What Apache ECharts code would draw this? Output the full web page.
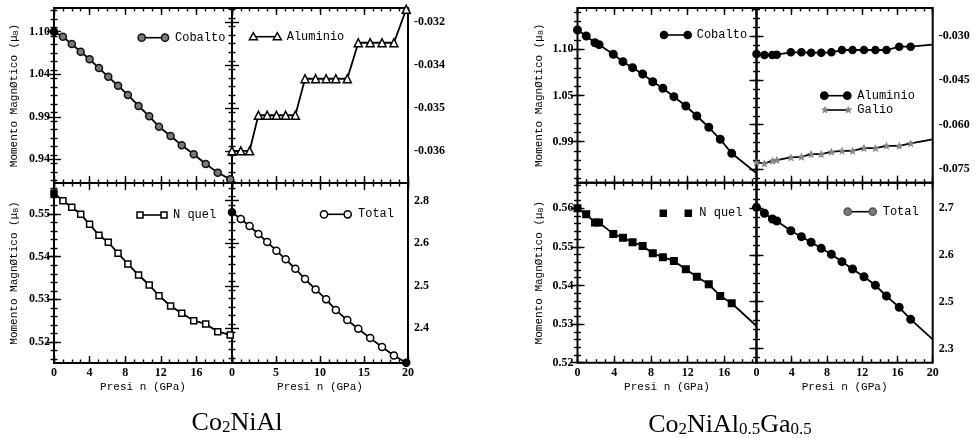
<!DOCTYPE html>
<html>
<head>
<meta charset="utf-8">
<script src="https://cdn.jsdelivr.net/npm/echarts@6/dist/echarts.min.js"></script>
<style>
  html, body { margin: 0; padding: 0; background: #fff; }
  #chart { width: 977px; height: 438px; }
</style>
</head>
<body>
<div id="chart"></div>
<script>
// ---------- Co2NiAl ----------
const pressureA = [0, 1, 2, 3, 4, 5.05, 6.1, 7.2, 8.3, 9.5, 10.7, 11.8, 13.1, 14.35, 15.7, 17.05, 18.4, 19.8];
const cobaltoA = [1.095, 1.089, 1.0805, 1.0715, 1.0626, 1.0523, 1.042, 1.0315, 1.0206, 1.0077, 0.9955, 0.9833, 0.9724, 0.9615, 0.9509, 0.9395, 0.9293, 0.9215];
const aluminioA = [-0.0355, -0.0355, -0.0355, -0.03467, -0.03467, -0.03467, -0.03467, -0.03467, -0.03382, -0.03382, -0.03382, -0.03382, -0.03382, -0.03298, -0.03298, -0.03298, -0.03298, -0.0322];
const niquelA = [0.55485, 0.55312, 0.55157, 0.54993, 0.54759, 0.54501, 0.54337, 0.5408, 0.53829, 0.53571, 0.53337, 0.53087, 0.52845, 0.52674, 0.52501, 0.52424, 0.52243, 0.52166];
const totalA = [2.7227, 2.7069, 2.6905, 2.6716, 2.6528, 2.6324, 2.6121, 2.59, 2.5658, 2.5415, 2.518, 2.4928, 2.4693, 2.4488, 2.4269, 2.4058, 2.3862, 2.3688];

// ---------- Co2NiAl0.5Ga0.5 (last entry of each list is the end of the fitted line) ----------
const pressureBL = [0, 0.95, 1.9, 2.35, 3.9, 4.95, 6.0, 7.1, 8.2, 9.3, 10.5, 11.8, 13.0, 14.3, 15.55, 16.8, 19.5];
const pressureBR = [0, 0.9, 1.8, 2.3, 3.9, 5.1, 6.2, 7.35, 8.5, 9.7, 10.9, 12.2, 13.5, 14.75, 16.2, 17.5, 20];
const cobaltoB = [1.1209, 1.1144, 1.1071, 1.105, 1.0946, 1.0866, 1.0801, 1.0733, 1.0649, 1.0578, 1.0487, 1.0386, 1.0278, 1.0156, 1.0026, 0.9874, 0.9658];
const niquelB = [0.56, 0.55845, 0.55627, 0.55627, 0.55334, 0.55238, 0.55119, 0.55023, 0.54834, 0.54731, 0.54635, 0.5442, 0.54228, 0.54031, 0.53728, 0.53539, 0.5295];
const aluminioB = [-0.0361, -0.03643, -0.03643, -0.03632, -0.03553, -0.03553, -0.03565, -0.03565, -0.03553, -0.03474, -0.03474, -0.03474, -0.03474, -0.03474, -0.03361, -0.03361, -0.03294];
const galioB = [-0.07277, -0.07311, -0.07223, -0.07199, -0.07108, -0.07087, -0.06996, -0.06996, -0.06918, -0.06884, -0.06884, -0.06793, -0.06793, -0.06715, -0.06715, -0.06634, -0.06498];
const totalB = [2.7021, 2.6893, 2.6771, 2.6728, 2.652, 2.6392, 2.6272, 2.6143, 2.6015, 2.5857, 2.57, 2.5535, 2.5351, 2.5122, 2.488, 2.4623, 2.4195];

// ---------- tick values and their printed labels ----------
const xTicks4 = [0, 4, 8, 12, 16];
const xTicks4to20 = [0, 4, 8, 12, 16, 20];
const xTicks5 = [0, 5, 10, 15, 20];
const coTicksA = [0.945, 0.995, 1.045, 1.095];
const coLabelsA = ['0.94', '0.99', '1.04', '1.10'];
const alTicksA = [-0.0355, -0.0345, -0.0335, -0.0325];
const alLabelsA = ['-0.036', '-0.035', '-0.034', '-0.032'];
const niTicksA = [0.52, 0.53, 0.54, 0.55];
const niLabelsA = ['0.52', '0.53', '0.54', '0.55'];
const totTicksA = [2.45, 2.55, 2.65, 2.75];
const totLabelsA = ['2.4', '2.5', '2.6', '2.8'];
const coTicksB = [1.00, 1.05, 1.10];
const coLabelsB = ['0.99', '1.05', '1.10'];
const alGaTicksB = [-0.075, -0.06, -0.045, -0.03];
const alGaLabelsB = ['-0.075', '-0.060', '-0.045', '-0.030'];
const niTicksB = [0.52, 0.53, 0.54, 0.55, 0.56];
const niLabelsB = ['0.52', '0.53', '0.54', '0.55', '0.56'];
const totTicksB = [2.4, 2.5, 2.6, 2.7];
const totLabelsB = ['2.3', '2.5', '2.6', '2.7'];

const SERIF = 'Liberation Serif';
const MONO = 'Liberation Mono';
const Y_NAME = 'Momento MagnØtico (μ{sub|B})';
const X_NAME = 'Presi n (GPa)';

function steps(min, max, step) {
  const out = [];
  for (let k = Math.ceil(min / step - 1e-9); k * step <= max + 1e-12; k++) out.push(+(k * step).toFixed(7));
  return out;
}

// panel frames: [left, top, width, height]
const panels = [
  { box: [54, 8, 178, 175], x: [0, 20], y: [0.9171, 1.1229], xMajor: xTicks4to20, xLab: null, xStep: 1,
    yMajor: coTicksA, yLab: coLabelsA, yStep: 0.01, side: 'left', yName: 34 },
  { box: [232, 8, 176, 175], x: [0, 20], y: [-0.03625, -0.03217], xMajor: xTicks5, xLab: null, xStep: 1,
    yMajor: alTicksA, yLab: alLabelsA, yStep: 0.0002, side: 'right' },
  { box: [54, 183, 178, 180], x: [0, 20], y: [0.5151, 0.55726], xMajor: xTicks4to20, xLab: xTicks4, xStep: 1,
    yMajor: niTicksA, yLab: niLabelsA, yStep: 0.002, side: 'left', yName: 34, xName: true },
  { box: [232, 183, 176, 180], x: [0, 20], y: [2.3684, 2.7916], xMajor: xTicks5, xLab: xTicks5, xStep: 1,
    yMajor: totTicksA, yLab: totLabelsA, yStep: 0.02, side: 'right', xName: true },
  { box: [577.5, 8, 179, 174.7], x: [0, 19.5], y: [0.9556, 1.1447], xMajor: xTicks4, xLab: null, xStep: 1,
    yMajor: coTicksB, yLab: coLabelsB, yStep: 0.01, side: 'left', yName: 33 },
  { box: [756.5, 8, 176.2, 174.7], x: [0, 20], y: [-0.07964, -0.02052], xMajor: xTicks4to20, xLab: null, xStep: 1,
    yMajor: alGaTicksB, yLab: alGaLabelsB, yStep: 0.003, side: 'right' },
  { box: [577.5, 182.7, 179, 180], x: [0, 19.5], y: [0.52, 0.5666], xMajor: xTicks4, xLab: xTicks4, xStep: 1,
    yMajor: niTicksB, yLab: niLabelsB, yStep: 0.002, side: 'left', yName: 33, xName: true },
  { box: [756.5, 182.7, 176.2, 180], x: [0, 20], y: [2.3694, 2.7548], xMajor: xTicks4to20, xLab: xTicks4to20, xStep: 1,
    yMajor: totTicksB, yLab: totLabelsB, yStep: 0.02, side: 'right', xName: true }
];

const grids = [], xAxes = [], yAxes = [], series = [];
const tickLine = { color: '#000', width: 1.4 };
const labelFont = { color: '#000', fontFamily: SERIF, fontWeight: 'bold', fontSize: 12 };

function mkAxis(gi, range, pos, ticks, len, extra) {
  return Object.assign({
    gridIndex: gi, type: 'value', min: range[0], max: range[1], position: pos,
    axisLine: { show: false }, splitLine: { show: false },
    axisTick: { show: true, inside: true, length: len, customValues: ticks, lineStyle: tickLine },
    axisLabel: { show: false }
  }, extra || {});
}

const axisIndex = [];
panels.forEach((P, gi) => {
  const [l, t, w, h] = P.box;
  grids.push({ left: l, top: t, width: w, height: h, show: true, borderColor: '#000', borderWidth: 2, containLabel: false });
  const xMinor = steps(P.x[0], P.x[1], P.xStep);
  const yMinor = steps(P.y[0], P.y[1], P.yStep);
  const xi = xAxes.length, yi = yAxes.length;
  axisIndex.push([xi, yi]);
  // bottom axis (labels and long ticks)
  const xExtra = {};
  if (P.xLab) {
    xExtra.axisLabel = { show: true, customValues: P.xLab, margin: 4, ...labelFont };
  }
  if (P.xName) {
    Object.assign(xExtra, {
      name: X_NAME, nameLocation: 'middle', nameGap: 19,
      nameTextStyle: { fontFamily: MONO, fontSize: 11, color: '#000' }
    });
  }
  xAxes.push(mkAxis(gi, P.x, 'bottom', P.xMajor, 7, xExtra));
  xAxes.push(mkAxis(gi, P.x, 'bottom', xMinor, 3.5));
  xAxes.push(mkAxis(gi, P.x, 'top', P.xMajor, 7));
  xAxes.push(mkAxis(gi, P.x, 'top', xMinor, 3.5));
  // labelled side for y
  const other = P.side === 'left' ? 'right' : 'left';
  const labs = P.yLab, ticks = P.yMajor;
  const yExtra = {
    axisLabel: {
      show: true, customValues: ticks, margin: P.side === 'left' ? 4 : 6, ...labelFont,
      formatter: v => labs[ticks.findIndex(tv => Math.abs(tv - v) < 1e-9)]
    }
  };
  if (P.yName) {
    Object.assign(yExtra, {
      name: Y_NAME, nameLocation: 'middle', nameGap: P.yName,
      nameTextStyle: { fontFamily: MONO, fontSize: 11, color: '#000', rich: { sub: { fontFamily: MONO, fontSize: 8, color: '#000', verticalAlign: 'bottom', lineHeight: 8 } } }
    });
  }
  yAxes.push(mkAxis(gi, P.y, P.side, ticks, 7, yExtra));
  yAxes.push(mkAxis(gi, P.y, P.side, yMinor, 3.5));
  yAxes.push(mkAxis(gi, P.y, other, ticks, 7));
  yAxes.push(mkAxis(gi, P.y, other, yMinor, 3.5));
});

function addSeries(panel, name, xs, ys, sym, opts) {
  const [xi, yi] = axisIndex[panel];
  const data = xs.map((x, i) => {
    const item = { value: [x, ys[i]] };
    if (opts.hideLast && i === xs.length - 1) item.symbol = 'none';
    if (opts.darkIdx && opts.darkIdx.includes(i)) item.itemStyle = { color: '#000', borderColor: '#000' };
    return item;
  });
  series.push({
    type: 'line', name, xAxisIndex: xi, yAxisIndex: yi, data, clip: false,
    symbol: sym, symbolSize: opts.size || 7, showAllSymbol: true,
    lineStyle: { color: '#000', width: 1.8 },
    itemStyle: { color: opts.fill, borderColor: opts.stroke || '#000', borderWidth: opts.bw == null ? 1.5 : opts.bw },
    emphasis: { disabled: true }, silent: true, z: 3
  });
}

const STAR = 'path://M0,-10L2.4,-3.3L9.5,-3.1L3.9,1.3L5.9,8.1L0,4.1L-5.9,8.1L-3.9,1.3L-9.5,-3.1L-2.4,-3.3Z';

addSeries(0, 'Cobalto', pressureA, cobaltoA, 'circle', { fill: '#7a7a7a', stroke: '#111', darkIdx: [0] });
addSeries(1, 'Aluminio', pressureA, aluminioA, 'triangle', { fill: '#fff', size: 8 });
addSeries(2, 'N quel', pressureA, niquelA, 'rect', { fill: '#fff', size: 6, darkIdx: [0] });
addSeries(3, 'Total', pressureA, totalA, 'circle', { fill: '#fff', darkIdx: [0, 17] });
addSeries(4, 'Cobalto', pressureBL, cobaltoB, 'circle', { fill: '#000', size: 7.5, hideLast: true });
addSeries(5, 'Aluminio', pressureBR, aluminioB, 'circle', { fill: '#000', size: 7, hideLast: true });
addSeries(5, 'Galio', pressureBR, galioB, STAR, { fill: '#8a8a8a', stroke: '#666', bw: 0.5, size: 7, hideLast: true });
addSeries(6, 'N quel', pressureBL, niquelB, 'rect', { fill: '#000', size: 6.5, hideLast: true });
addSeries(7, 'Total', pressureBR, totalB, 'circle', { fill: '#000', size: 7.5, hideLast: true });

// in-panel keys: two markers joined by a short line, followed by the name
function marker(kind, cx, cy, fill, stroke) {
  const st = { fill, stroke, lineWidth: 1.5 };
  if (kind === 'circle') return { type: 'circle', shape: { cx, cy, r: 3.6 }, style: st, z: 10 };
  if (kind === 'rect') return { type: 'rect', shape: { x: cx - 3, y: cy - 3, width: 6, height: 6 }, style: st, z: 10 };
  if (kind === 'triangle') return { type: 'polygon', shape: { points: [[cx, cy - 4], [cx + 4, cy + 3], [cx - 4, cy + 3]] }, style: st, z: 10 };
  const pts = [];
  for (let k = 0; k < 10; k++) {
    const a = -Math.PI / 2 + k * Math.PI / 5, r = k % 2 ? 1.5 : 3.6;
    pts.push([cx + r * Math.cos(a), cy + r * Math.sin(a)]);
  }
  return { type: 'polygon', shape: { points: pts }, style: { fill, stroke, lineWidth: 0.5 }, z: 10 };
}
function key(x1, x2, y, tx, text, kind, fill, stroke, noLine) {
  const els = [];
  if (!noLine) els.push({ type: 'line', shape: { x1, y1: y, x2, y2: y }, style: { stroke: '#000', lineWidth: 1.6 }, z: 9 });
  els.push(marker(kind, x1, y, fill, stroke), marker(kind, x2, y, fill, stroke));
  els.push({ type: 'text', x: tx, y, style: { text, fontFamily: MONO, fontSize: 12, fill: '#000', verticalAlign: 'middle', align: 'left' }, z: 10 });
  return els;
}

const graphics = [].concat(
  key(141.7, 165, 37.7, 175, 'Cobalto', 'circle', '#7a7a7a', '#111'),
  key(253.3, 277.3, 36.7, 286.7, 'Aluminio', 'triangle', '#fff', '#000'),
  key(140, 164, 215, 173, 'N quel', 'rect', '#fff', '#000'),
  key(324, 347.7, 214.3, 358, 'Total', 'circle', '#fff', '#000'),
  key(664, 687.7, 35, 696.7, 'Cobalto', 'circle', '#000', '#000'),
  key(824.3, 847.3, 95.7, 857.3, 'Aluminio', 'circle', '#000', '#000'),
  key(825, 848.3, 110, 857.3, 'Galio', 'star', '#8a8a8a', '#666'),
  key(663.3, 688.3, 213.3, 699.3, 'N quel', 'rect', '#000', '#000', true),
  key(847.7, 872.7, 211.7, 882.7, 'Total', 'circle', '#7a7a7a', '#555')
);

const titleRich = {
  n: { fontFamily: SERIF, fontSize: 26, fontWeight: 'normal', color: '#000', lineHeight: 30, verticalAlign: 'bottom' },
  s: { fontFamily: SERIF, fontSize: 17, fontWeight: 'normal', color: '#000', lineHeight: 14, verticalAlign: 'bottom' }
};

const chart = echarts.init(document.getElementById('chart'), null, { renderer: 'canvas' });
chart.setOption({
  animation: false,
  backgroundColor: '#fff',
  title: [
    { text: '{n|Co}{s|2}{n|NiAl}', left: 232, top: 401, textAlign: 'center',
      textStyle: { fontWeight: 'normal', rich: titleRich } },
    { text: '{n|Co}{s|2}{n|NiAl}{s|0.5}{n|Ga}{s|0.5}', left: 725, top: 403, textAlign: 'center',
      textStyle: { fontWeight: 'normal', rich: titleRich } }
  ],
  grid: grids,
  xAxis: xAxes,
  yAxis: yAxes,
  series,
  graphic: { elements: graphics }
});
</script>
</body>
</html>
